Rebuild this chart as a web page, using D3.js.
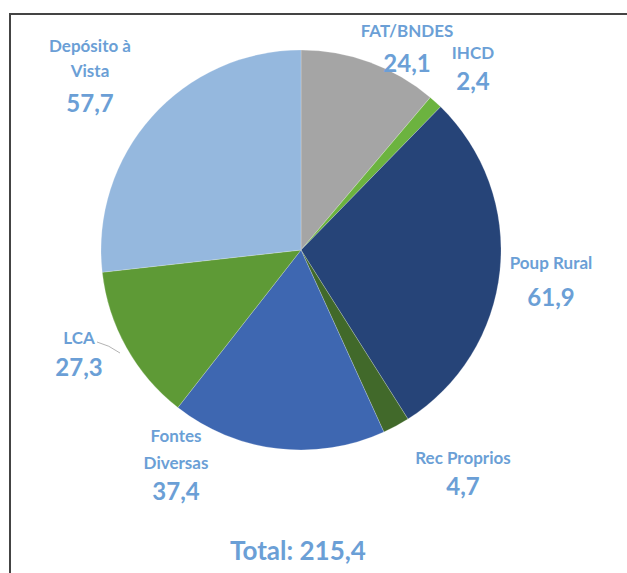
<!DOCTYPE html>
<html><head><meta charset="utf-8">
<script src="https://cdn.jsdelivr.net/npm/d3@7"></script>
<style>body{margin:0;background:#fff}svg{display:block}</style>
</head><body>
<svg id="c" width="627" height="573"></svg>
<script>
const categories = ["FAT/BNDES","IHCD","Poup Rural","Rec Proprios","Fontes Diversas","LCA","Depósito à Vista"];
const values = [24.1, 2.4, 61.9, 4.7, 37.4, 27.3, 57.7];
const valueLabels = ["24,1","2,4","61,9","4,7","37,4","27,3","57,7"];
const nameLines = [["FAT/BNDES"],["IHCD"],["Poup Rural"],["Rec Proprios"],["Fontes","Diversas"],["LCA"],["Depósito à","Vista"]];
const totalLabel = "Total: 215,4";

const colors = ["#a5a5a5","#6cb33f","#264478","#41692a","#3e67b1","#5e9a36","#95b8de"];
// label layout: [x center, y of first line center, line gap, value y]
const labelLayout = [
  [407, 30, 0, 62],
  [473, 52, 0, 80],
  [551, 262, 0, 296],
  [463, 457, 0, 485],
  [176, 435, 27, 490],
  [79, 337, 0, 366],
  [90, 45, 25, 102]
];

const svg = d3.select("#c");
const font = "Lato, 'Open Sans', sans-serif";
const textColor = "#6b9fd6";

// frame
svg.append("rect").attr("x",10).attr("y",14).attr("width",640).attr("height",600)
  .attr("fill","none").attr("stroke","#444").attr("stroke-width",2);

const cx = 301, cy = 250, R = 200;
const pie = d3.pie().sort(null).value(d => d)(values);
const arc = d3.arc().innerRadius(0).outerRadius(R);
const g = svg.append("g").attr("transform",`translate(${cx},${cy})`);
g.selectAll("path").data(pie).join("path")
  .attr("d", arc)
  .attr("fill",(d,i)=>colors[i])
  .attr("stroke","rgba(255,255,255,0.35)").attr("stroke-width",0.6);

// leader line for LCA
const lcaIdx = categories.indexOf("LCA");
const lcaL = labelLayout[lcaIdx];
svg.append("path")
  .attr("d", `M${lcaL[0]+18},${lcaL[1]+5} Q${lcaL[0]+30},${lcaL[1]+8} ${lcaL[0]+41},${lcaL[1]+16}`)
  .attr("fill","none").attr("stroke","#a0a0a0").attr("stroke-width",0.8);

categories.forEach((c,i) => {
  const [x,y,gap,vy] = labelLayout[i];
  nameLines[i].forEach((ln,j) => {
    svg.append("text").attr("x",x).attr("y",y + j*gap)
      .attr("text-anchor","middle").attr("dominant-baseline","central")
      .attr("font-family",font).attr("font-weight","bold").attr("font-size",17)
      .attr("fill",textColor).text(ln);
  });
  svg.append("text").attr("x",x).attr("y",vy)
    .attr("text-anchor","middle").attr("dominant-baseline","central")
    .attr("font-family",font).attr("font-weight","bold").attr("font-size",24)
    .attr("fill",textColor).text(valueLabels[i]);
});

svg.append("text").attr("x",298).attr("y",550)
  .attr("text-anchor","middle").attr("dominant-baseline","central")
  .attr("font-family",font).attr("font-weight","bold").attr("font-size",26)
  .attr("fill",textColor).text(totalLabel);
</script>
</body></html>
